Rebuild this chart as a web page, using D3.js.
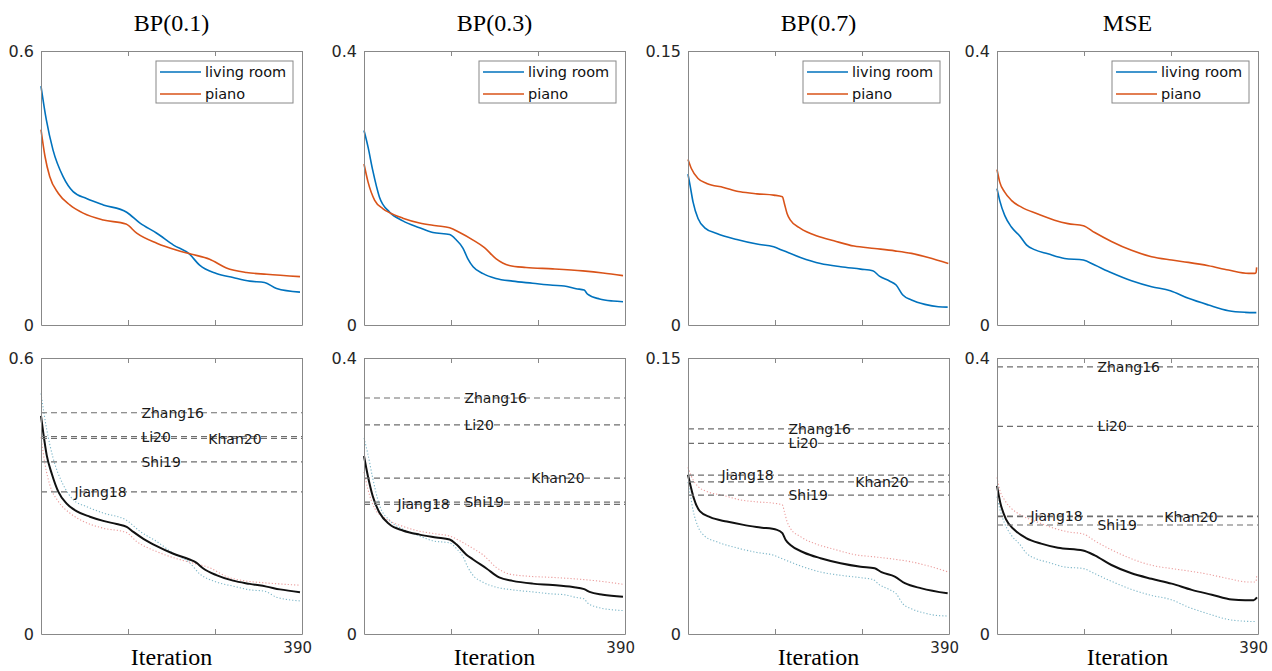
<!DOCTYPE html>
<html>
<head>
<meta charset="utf-8">
<script src="https://cdn.jsdelivr.net/npm/d3@7"></script>
<style>
  html, body { margin: 0; padding: 0; background: #fff; overflow: hidden; }
  svg { display: block; }
</style>
</head>
<body>
<div id="chart"></div>
<script>
// ---- data ----
var titles = ["BP(0.1)", "BP(0.3)", "BP(0.7)", "MSE"];
var yMax = [0.6, 0.4, 0.15, 0.4];
var xTicks = [0, 130, 260, 390];
var xEndLabel = "390";
var seriesNames = ["living room", "piano"];

// [iteration, value]
var roomBP01 = [[0,0.523],[8,0.449],[18,0.383],[33,0.325],[48,0.292],[68,0.277],[93,0.263],[128,0.247],[148,0.223],[173,0.201],[198,0.175],[222,0.155],[237,0.131],[262,0.113],[287,0.104],[312,0.096],[334,0.093],[352,0.080],[387,0.072]];
var pianoBP01 = [[0,0.428],[6,0.369],[13,0.325],[26,0.288],[43,0.263],[63,0.245],[93,0.230],[127,0.221],[143,0.201],[173,0.179],[202,0.164],[225,0.155],[252,0.144],[277,0.125],[307,0.115],[337,0.111],[387,0.106]];
var meanBP01 = [[0,0.474],[3.5,0.436],[8.5,0.389],[16,0.349],[26,0.309],[38,0.284],[53,0.267],[73,0.255],[93,0.246],[113,0.239],[128,0.233],[138,0.222],[153,0.207],[173,0.191],[197,0.175],[222,0.162],[232,0.155],[242,0.143],[262,0.128],[287,0.116],[312,0.109],[337,0.103],[357,0.097],[387,0.091]];

var roomBP03 = [[0,0.284],[6,0.260],[13,0.226],[23,0.187],[38,0.165],[58,0.152],[83,0.142],[103,0.135],[128,0.132],[138,0.124],[148,0.112],[155,0.097],[163,0.085],[178,0.075],[197,0.068],[222,0.064],[252,0.061],[282,0.058],[299,0.057],[317,0.053],[329,0.051],[334,0.045],[352,0.038],[372,0.035],[387,0.034]];
var pianoBP03 = [[0,0.235],[6,0.209],[16,0.182],[28,0.170],[38,0.164],[58,0.156],[83,0.149],[108,0.145],[128,0.142],[143,0.135],[163,0.124],[180,0.113],[197,0.097],[217,0.087],[242,0.084],[282,0.082],[327,0.079],[357,0.076],[387,0.072]];
var meanBP03 = [[0,0.258],[6,0.228],[13,0.200],[23,0.176],[38,0.159],[58,0.150],[83,0.144],[108,0.140],[128,0.137],[138,0.130],[153,0.115],[163,0.108],[183,0.095],[202,0.082],[222,0.077],[252,0.073],[282,0.071],[312,0.068],[329,0.065],[337,0.061],[357,0.057],[387,0.054]];

var roomBP07 = [[0,0.0826],[3.5,0.0756],[7.5,0.0674],[15,0.0583],[25,0.0532],[43,0.0501],[73,0.0468],[103,0.0443],[128,0.0428],[143,0.0406],[168,0.0370],[198,0.0337],[228,0.0319],[258,0.0306],[276,0.0297],[286,0.0268],[301,0.0241],[311,0.0219],[321,0.0164],[334,0.0137],[354,0.0113],[374,0.0100],[388,0.0098]];
var pianoBP07 = [[0,0.0906],[5,0.0857],[15,0.0802],[28,0.0775],[53,0.0753],[78,0.0729],[103,0.0718],[128,0.0711],[141,0.0702],[144,0.0665],[148,0.0611],[153,0.0574],[168,0.0529],[193,0.0487],[218,0.0461],[248,0.0432],[279,0.0419],[309,0.0406],[334,0.0392],[359,0.0370],[389,0.0337]];
var meanBP07 = [[0,0.0865],[3.5,0.081],[8.5,0.074],[18,0.0666],[33,0.0635],[58,0.0611],[83,0.0593],[108,0.0579],[133,0.0566],[141,0.0548],[146,0.0511],[153,0.0484],[173,0.0443],[198,0.0412],[228,0.0385],[258,0.0366],[279,0.0357],[289,0.0336],[309,0.0312],[324,0.0276],[349,0.0248],[388,0.0221]];

var roomMSE = [[0,0.199],[4,0.182],[11.5,0.160],[21.5,0.143],[34,0.130],[44,0.117],[56,0.110],[76,0.104],[101,0.0972],[129,0.0948],[146,0.0875],[171,0.0763],[201,0.0646],[231,0.0559],[259,0.0501],[286,0.0389],[316,0.0292],[346,0.0209],[371,0.0185],[387.5,0.0180]];
var pianoMSE = [[0,0.227],[4,0.209],[11.5,0.194],[21.5,0.182],[36.5,0.172],[61,0.162],[86,0.153],[106,0.148],[129,0.145],[146,0.135],[171,0.122],[201,0.109],[231,0.0996],[261,0.0948],[286,0.0914],[316,0.0865],[346,0.0802],[376,0.0753],[385,0.0753],[387,0.0763],[388,0.0841]];
var meanMSE = [[0,0.2146],[5,0.190],[13.5,0.166],[26,0.151],[43.5,0.139],[66,0.131],[91,0.125],[128.5,0.121],[146,0.114],[171,0.100],[201,0.088],[231,0.080],[261,0.073],[291,0.064],[321,0.057],[351,0.050],[371,0.049],[383.5,0.049],[388.5,0.053]];

// reference methods (horizontal dashed lines)
var methods = ["Zhang16", "Li20", "Khan20", "Shi19", "Jiang18"];
var methodLabelIter = [150, 150, 250, 150, 50];
var methodsBP01 = [0.481, 0.429, 0.425, 0.374, 0.309];
var methodsBP03 = [0.342, 0.303, 0.226, 0.191, 0.188];
var methodsBP07 = [0.1115, 0.1036, 0.0827, 0.0755, 0.0863];
var methodsMSE = [0.387, 0.301, 0.170, 0.158, 0.171];

var panels = [
  { room: roomBP01, piano: pianoBP01, mean: meanBP01, methods: methodsBP01 },
  { room: roomBP03, piano: pianoBP03, mean: meanBP03, methods: methodsBP03 },
  { room: roomBP07, piano: pianoBP07, mean: meanBP07, methods: methodsBP07 },
  { room: roomMSE, piano: pianoMSE, mean: meanMSE, methods: methodsMSE }
];

// ---- layout ----
var W = 1272, H = 671;
var lefts = [41, 364, 688, 997];
var pw = 261;
var rows = [{ top: 51, bottom: 325 }, { top: 358, bottom: 634 }];
var blue = "#0072BD", orange = "#D95319";
var axisColor = "#888";
var font = "'DejaVu Sans', Verdana, sans-serif";
var serif = "'Liberation Serif', 'Times New Roman', serif";

var svg = d3.select("#chart").append("svg").attr("width", W).attr("height", H);

var line = d3.line().curve(d3.curveMonotoneX);

function drawFrame(g, x, y, ymax) {
  var xAxisB = d3.axisBottom(x).tickValues(xTicks).tickSizeInner(-5).tickSizeOuter(0).tickFormat("");
  var xAxisT = d3.axisTop(x).tickValues(xTicks).tickSizeInner(-5).tickSizeOuter(0).tickFormat("");
  var yAxisL = d3.axisLeft(y).tickValues([0, ymax]).tickSizeInner(0).tickSizeOuter(0).tickPadding(7)
    .tickFormat(function (d) { return d === 0 ? "0" : String(d); });
  var yAxisR = d3.axisRight(y).tickValues([]).tickSizeOuter(0);

  var b = g.append("g").attr("transform", "translate(0," + y(0) + ")").call(xAxisB);
  var t = g.append("g").attr("transform", "translate(0," + y(ymax) + ")").call(xAxisT);
  var l = g.append("g").attr("transform", "translate(" + x(0) + ",0)").call(yAxisL);
  var r = g.append("g").attr("transform", "translate(" + x(390) + ",0)").call(yAxisR);

  [b, t, l, r].forEach(function (a) {
    a.select(".domain").attr("stroke", axisColor);
    a.selectAll(".tick line").attr("stroke", axisColor);
    a.selectAll("text").attr("fill", "#262626").style("font-family", font).style("font-size", "16px");
  });
}

var xScales = [];

panels.forEach(function (p, i) {
  var x = d3.scaleLinear().domain([0, 390]).range([lefts[i], lefts[i] + pw]);
  xScales.push(x);

  // title
  svg.append("text")
    .attr("x", lefts[i] + pw / 2).attr("y", 31)
    .attr("text-anchor", "middle")
    .style("font-family", serif).style("font-size", "24px")
    .text(titles[i]);

  // ---------- top row ----------
  var yT = d3.scaleLinear().domain([0, yMax[i]]).range([rows[0].bottom, rows[0].top]);
  var gT = svg.append("g");
  line.x(function (d) { return x(d[0]); });

  gT.append("path").datum(p.room)
    .attr("d", line.y(function (d) { return yT(d[1]); }))
    .attr("fill", "none").attr("stroke", blue).attr("stroke-width", 1.6);
  gT.append("path").datum(p.piano)
    .attr("d", line.y(function (d) { return yT(d[1]); }))
    .attr("fill", "none").attr("stroke", orange).attr("stroke-width", 1.6);

  drawFrame(gT, x, yT, yMax[i]);

  // legend
  var lx = lefts[i] + pw - 9 - 137, ly = rows[0].top + 10;
  var leg = gT.append("g").attr("transform", "translate(" + lx + "," + ly + ")");
  leg.append("rect").attr("width", 137).attr("height", 42)
    .attr("fill", "#fff").attr("stroke", axisColor).attr("stroke-width", 1);
  [blue, orange].forEach(function (c, k) {
    var yy = 11 + k * 22;
    leg.append("line").attr("x1", 4).attr("x2", 45).attr("y1", yy).attr("y2", yy)
      .attr("stroke", c).attr("stroke-width", 1.6);
    leg.append("text").attr("x", 49).attr("y", yy).attr("dy", "0.36em")
      .style("font-family", font).style("font-size", "14.5px").attr("fill", "#111")
      .text(seriesNames[k]);
  });

  // ---------- bottom row ----------
  var yB = d3.scaleLinear().domain([0, yMax[i]]).range([rows[1].bottom, rows[1].top]);
  var gB = svg.append("g");

  gB.append("path").datum(p.room)
    .attr("d", line.y(function (d) { return yB(d[1]); }))
    .attr("fill", "none").attr("stroke", "#7cb6c8").attr("stroke-width", 1.1)
    .attr("stroke-dasharray", "1.2,2");
  gB.append("path").datum(p.piano)
    .attr("d", line.y(function (d) { return yB(d[1]); }))
    .attr("fill", "none").attr("stroke", "#eb9c9c").attr("stroke-width", 1.1)
    .attr("stroke-dasharray", "1.2,2");
  gB.append("path").datum(p.mean)
    .attr("d", line.y(function (d) { return yB(d[1]); }))
    .attr("fill", "none").attr("stroke", "#111").attr("stroke-width", 2);

  p.methods.forEach(function (v, k) {
    gB.append("line")
      .attr("x1", x(0)).attr("x2", x(390)).attr("y1", yB(v)).attr("y2", yB(v))
      .attr("stroke", "#6e6e6e").attr("stroke-width", 1.2).attr("stroke-dasharray", "6,4");
  });
  p.methods.forEach(function (v, k) {
    gB.append("text")
      .attr("x", x(methodLabelIter[k])).attr("y", yB(v)).attr("dy", "0.36em")
      .style("font-family", font).style("font-size", "14px").attr("fill", "#1a1a1a")
      .text(methods[k]);
  });

  drawFrame(gB, x, yB, yMax[i]);

  svg.append("text")
    .attr("x", lefts[i] + pw / 2).attr("y", 665)
    .attr("text-anchor", "middle")
    .style("font-family", serif).style("font-size", "24px")
    .text("Iteration");
});

// end-of-axis labels under the bottom row
xScales.forEach(function (x) {
  svg.append("text")
    .attr("x", x(390) + 10).attr("y", rows[1].bottom + 19)
    .attr("text-anchor", "end")
    .style("font-family", font).style("font-size", "15px").attr("fill", "#262626")
    .text(xEndLabel);
});
</script>
</body>
</html>
